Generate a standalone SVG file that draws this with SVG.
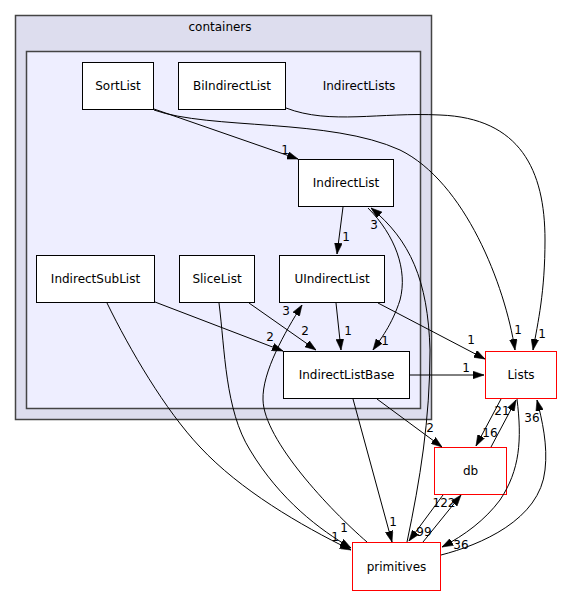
<svg xmlns="http://www.w3.org/2000/svg" width="563" height="596" viewBox="0 0 563 596">
<defs>
<marker id="ah" markerWidth="11" markerHeight="8" refX="10" refY="3.5" orient="auto" markerUnits="userSpaceOnUse" viewBox="0 0 10 7">
<path d="M0,0 L10,3.5 L0,7 z" fill="#000" stroke="#000" stroke-width="0.5"/>
</marker>
</defs>
<style>
text{font-family:"DejaVu Sans","Liberation Sans",sans-serif;font-size:12px;fill:#000;text-anchor:middle}
.lbl{font-size:12px}
.node rect{fill:#fff;stroke:#000;stroke-width:1}
.ext rect{fill:#fff;stroke:#ff0000;stroke-width:1}
.edges path{fill:none;stroke:#000;stroke-width:1;marker-end:url(#ah)}
</style>
<rect width="563" height="596" fill="#fff"/>
<g id="cluster-containers">
<rect x="15.5" y="15.5" width="416" height="404" fill="#ddddee" stroke="#444" stroke-width="1.5"/>
<text x="220" y="31">containers</text>
</g>
<g id="cluster-IndirectLists">
<rect x="26.5" y="51.5" width="394" height="357" fill="#eeeeff" stroke="#444" stroke-width="1.5"/>
<text x="359" y="90">IndirectLists</text>
</g>
<g id="SortList" class="node"><rect x="82.5" y="62.5" width="71" height="47"/><text x="118" y="90">SortList</text></g>
<g id="BiIndirectList" class="node"><rect x="178.5" y="62.5" width="107" height="47"/><text x="232" y="90">BiIndirectList</text></g>
<g id="IndirectList" class="node"><rect x="298.5" y="159.5" width="95" height="47"/><text x="346" y="187">IndirectList</text></g>
<g id="IndirectSubList" class="node"><rect x="36.5" y="255.5" width="118" height="47"/><text x="95.5" y="283">IndirectSubList</text></g>
<g id="SliceList" class="node"><rect x="179.5" y="255.5" width="75" height="47"/><text x="217" y="283">SliceList</text></g>
<g id="UIndirectList" class="node"><rect x="279.5" y="255.5" width="105" height="47"/><text x="332" y="283">UIndirectList</text></g>
<g id="IndirectListBase" class="node"><rect x="283.5" y="351.5" width="126" height="47"/><text x="346.5" y="379">IndirectListBase</text></g>
<g id="Lists" class="ext"><rect x="485.5" y="351.5" width="71" height="47"/><text x="521" y="379">Lists</text></g>
<g id="db" class="ext"><rect x="434.5" y="447.5" width="72" height="47"/><text x="470.5" y="475">db</text></g>
<g id="primitives" class="ext"><rect x="352.5" y="542.5" width="88" height="48"/><text x="396.5" y="571">primitives</text></g>
<g id="edges" class="edges">
<path d="M154,109 L298,159"/>
<path d="M154,110 C210,130 330,118 400,150 C465,182 505,285 515,350"/>
<path d="M286,108 C330,125 380,112 440,115 C520,118 545,170 545,240 C545,292 538,322 533,350"/>
<path d="M343,207 L337,254"/>
<path d="M336,303 L341,350"/>
<path d="M378,303 L485,359"/>
<path d="M410,375 L484,375"/>
<path d="M377,399 L442,447"/>
<path d="M353,399 L392,542"/>
<path d="M155,302 L283,351"/>
<path d="M249,303 L316,350"/>
<path d="M368,208 C395,235 408,270 400,300 C392,325 380,340 373,350"/>
<path d="M407,542 C420,480 430,420 430,350 C428,280 410,240 371,208"/>
<path d="M367,542 C330,510 264,440 263,400 C262,372 285,332 302,305"/>
<path d="M219,303 C225,350 225,410 250,450 C280,500 320,530 351,548"/>
<path d="M107,303 C130,350 165,410 200,447 C240,490 300,525 351,550"/>
<path d="M501,399 L476,446"/>
<path d="M491,447 L516,400"/>
<path d="M517,399 C522,440 520,470 500,500 C485,520 465,535 442,547"/>
<path d="M441,555 C480,545 540,520 545,470 C548,445 542,420 537,400"/>
<path d="M443,495 L409,541"/>
<path d="M423,542 L461,495"/>
</g>
<g id="edge-labels">
<text class="lbl" x="285" y="154">1</text>
<text class="lbl" x="518" y="334">1</text>
<text class="lbl" x="542" y="338">1</text>
<text class="lbl" x="346" y="241">1</text>
<text class="lbl" x="348" y="335">1</text>
<text class="lbl" x="471" y="344">1</text>
<text class="lbl" x="466" y="372">1</text>
<text class="lbl" x="430" y="432">2</text>
<text class="lbl" x="393" y="526">1</text>
<text class="lbl" x="270" y="341">2</text>
<text class="lbl" x="305" y="335">2</text>
<text class="lbl" x="385" y="345">1</text>
<text class="lbl" x="374" y="229">3</text>
<text class="lbl" x="286" y="315">3</text>
<text class="lbl" x="344" y="532">1</text>
<text class="lbl" x="335" y="541">1</text>
<text class="lbl" x="490" y="437">16</text>
<text class="lbl" x="502" y="415">21</text>
<text class="lbl" x="461" y="549">36</text>
<text class="lbl" x="532" y="422">36</text>
<text class="lbl" x="424" y="536">99</text>
<text class="lbl" x="444" y="507">122</text>
</g>
</svg>
